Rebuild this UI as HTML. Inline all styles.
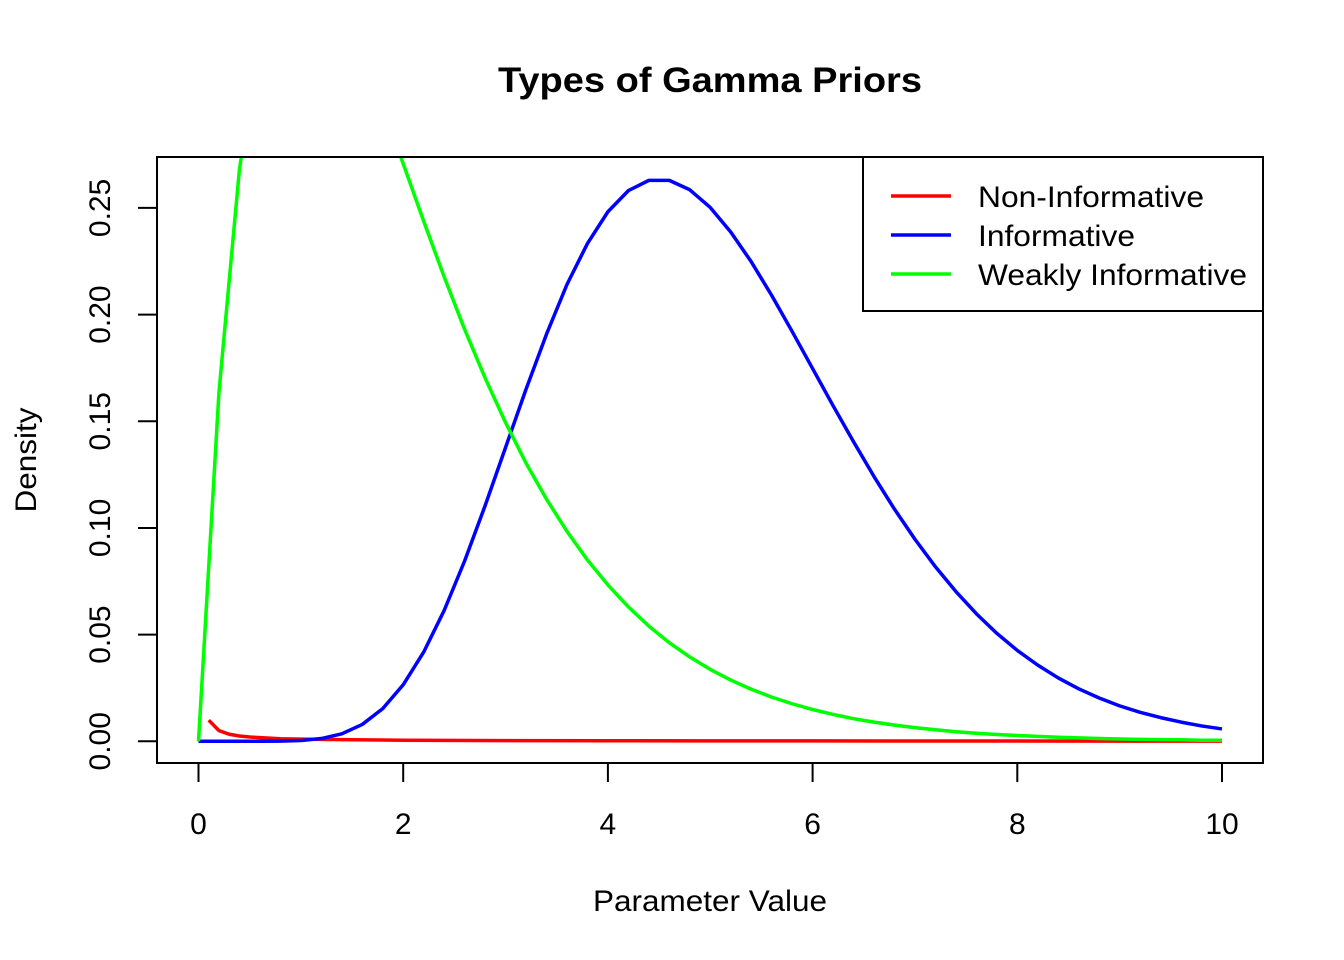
<!DOCTYPE html>
<html><head><meta charset="utf-8"><style>
body{margin:0;background:#fff}
svg{display:block;font-family:"Liberation Sans",Arial,sans-serif}
</style></head><body>
<svg id="chart" width="1344" height="960">
<defs><clipPath id="clip"><rect x="157" y="157" width="1106" height="606"/></clipPath></defs>
<text x="710" y="92" text-anchor="middle" font-size="35" font-weight="bold" textLength="424" lengthAdjust="spacingAndGlyphs">Types of Gamma Priors</text>
<text x="710" y="911" text-anchor="middle" font-size="30" textLength="234" lengthAdjust="spacingAndGlyphs">Parameter Value</text>
<text transform="translate(36,460) rotate(-90)" text-anchor="middle" font-size="30" textLength="105" lengthAdjust="spacingAndGlyphs">Density</text>
<g id="axes"></g>
<g id="series" clip-path="url(#clip)"></g>
<rect x="157" y="157" width="1106" height="606" fill="none" stroke="#000" stroke-width="2"/>
<g>
<rect x="863" y="157" width="400" height="154" fill="#fff" stroke="#000" stroke-width="2"/>
<line x1="891" y1="196" x2="951" y2="196" stroke="#ff0000" stroke-width="3.5"/>
<text x="978" y="207" font-size="30" textLength="226" lengthAdjust="spacingAndGlyphs">Non-Informative</text>
<line x1="891" y1="235" x2="951" y2="235" stroke="#0000ff" stroke-width="3.5"/>
<text x="978" y="246" font-size="30" textLength="157" lengthAdjust="spacingAndGlyphs">Informative</text>
<line x1="891" y1="274" x2="951" y2="274" stroke="#00ff00" stroke-width="3.5"/>
<text x="978" y="285" font-size="30" textLength="269" lengthAdjust="spacingAndGlyphs">Weakly Informative</text>
</g>
</svg>
<script>
const xValues=[0,0.2,0.4,0.6,0.8,1,1.2,1.4,1.6,1.8,2,2.2,2.4,2.6,2.8,3,3.2,3.4,3.6,3.8,4,4.2,4.4,4.6,4.8,5,5.2,5.4,5.6,5.8,6,6.2,6.4,6.6,6.8,7,7.2,7.4,7.6,7.8,8,8.2,8.4,8.6,8.8,9,9.2,9.4,9.6,9.8,10];
const informative=[0,0,0,0,0.0001,0.0004,0.0013,0.0035,0.0079,0.0153,0.0265,0.0418,0.0613,0.0845,0.1104,0.1377,0.165,0.1908,0.2141,0.2333,0.2482,0.2581,0.2629,0.2629,0.2585,0.2502,0.2387,0.2248,0.209,0.1921,0.1747,0.1573,0.1404,0.1241,0.1088,0.0947,0.0818,0.0702,0.0598,0.0506,0.0426,0.0357,0.0297,0.0246,0.0203,0.0166,0.0136,0.0111,0.009,0.0072,0.0058];
const weakly=[0,0.1637,0.2681,0.3293,0.3595,0.3679,0.3614,0.3452,0.323,0.2975,0.2707,0.2438,0.2177,0.1931,0.1703,0.1494,0.1304,0.1135,0.0984,0.085,0.0733,0.063,0.054,0.0462,0.0395,0.0337,0.0287,0.0244,0.0207,0.0176,0.0149,0.0126,0.0106,0.009,0.0076,0.0064,0.0054,0.0045,0.0038,0.0032,0.0027,0.0023,0.0019,0.0016,0.0013,0.0011,0.0009,0.0008,0.0007,0.0005,0.0005];
const nonInfX=[0.1,0.2,0.3,0.4,0.5,0.6,0.8,1,1.5,2,3,4,5,6,7,8,9,10];
const nonInformative=[0.0099,0.005,0.0033,0.0025,0.002,0.0017,0.0012,0.001,0.0007,0.0005,0.0003,0.00025,0.0002,0.00017,0.00014,0.00012,0.00011,0.0001];
const xTicks=[0,2,4,6,8,10];
const yTicks=[0,0.05,0.1,0.15,0.2,0.25];
const yTickLabels=["0.00","0.05","0.10","0.15","0.20","0.25"];

const NS="http://www.w3.org/2000/svg";
const sx=v=>198.5+v*102.35;
const sy=v=>741.3-v*2133.6;
const axes=document.getElementById('axes');
const series=document.getElementById('series');
function mk(tag,attrs,parent){const e=document.createElementNS(NS,tag);for(const k in attrs)e.setAttribute(k,attrs[k]);parent.appendChild(e);return e;}
xTicks.forEach(t=>{
  const l=mk('line',{x1:sx(t),x2:sx(t),y1:763,y2:782,stroke:'#000','stroke-width':2},axes);
  
  
  const tx=mk('text',{x:sx(t),y:834,'text-anchor':'middle','font-size':30},axes);
  tx.textContent=String(t);
  
  
});
yTicks.forEach((t,i)=>{
  const l=mk('line',{x1:138,x2:157,y1:sy(t),y2:sy(t),stroke:'#000','stroke-width':2},axes);
  
  
  const tx=mk('text',{transform:`translate(110,${sy(t)}) rotate(-90)`,'text-anchor':'middle','font-size':30},axes);
  tx.textContent=yTickLabels[i];
  
  
});
function line(xs,ys,color,name){
  const p=mk('polyline',{points:xs.map((x,i)=>sx(x)+','+sy(ys[i])).join(' '),fill:'none',stroke:color,'stroke-width':3.5,'stroke-linejoin':'round'},series);
  
  
}
line(nonInfX,nonInformative,'#ff0000','non-informative-line');
line(xValues,informative,'#0000ff','informative-line');
line(xValues,weakly,'#00ff00','weakly-informative-line');
</script>
</body></html>
